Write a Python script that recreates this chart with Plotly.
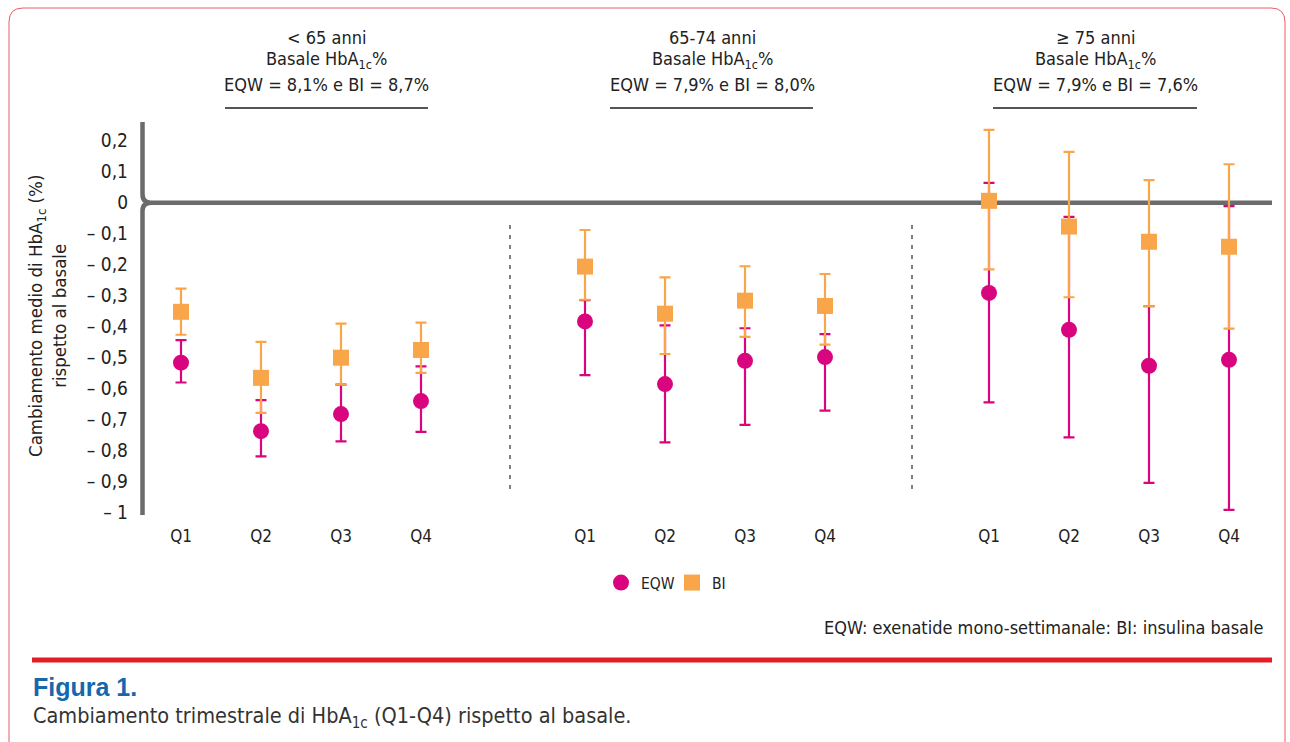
import plotly.graph_objects as go

# ---------------- data ----------------
groups = ["< 65 anni", "65-74 anni", "≥ 75 anni"]
baseline = ["EQW = 8,1% e BI = 8,7%", "EQW = 7,9% e BI = 8,0%", "EQW = 7,9% e BI = 7,6%"]
quarters = ["Q1", "Q2", "Q3", "Q4"]

eqw_mean = [-0.516, -0.737, -0.682, -0.640,
            -0.383, -0.585, -0.510, -0.498,
            -0.291, -0.410, -0.526, -0.507]
eqw_high = [-0.443, -0.637, -0.587, -0.528,
            -0.314, -0.396, -0.405, -0.424,
            0.064, -0.046, -0.334, -0.011]
eqw_low = [-0.580, -0.818, -0.770, -0.739,
           -0.556, -0.773, -0.717, -0.671,
           -0.644, -0.757, -0.904, -0.991]

bi_mean = [-0.352, -0.565, -0.500, -0.475,
           -0.206, -0.358, -0.316, -0.333,
           0.006, -0.077, -0.126, -0.142]
bi_high = [-0.277, -0.449, -0.390, -0.387,
           -0.088, -0.241, -0.205, -0.230,
           0.235, 0.164, 0.073, 0.124]
bi_low = [-0.426, -0.678, -0.587, -0.549,
          -0.313, -0.488, -0.433, -0.458,
          -0.215, -0.305, -0.334, -0.406]

y_ticks = [0.2, 0.1, 0, -0.1, -0.2, -0.3, -0.4, -0.5, -0.6, -0.7, -0.8, -0.9, -1]
y_ticktext = ["0,2", "0,1", "0", "– 0,1", "– 0,2", "– 0,3", "– 0,4", "– 0,5",
              "– 0,6", "– 0,7", "– 0,8", "– 0,9", "– 1"]

# ---------------- geometry ----------------
W, H = 1290, 742
PL, PR, PT, PB = 143, 1272, 110, 520
Y0PX, YSCALE = 202.7, 310.0
X0PX, XSCALE = 181.0, 80.0
GROUP_GAP = 5.05

yrange = [(Y0PX - PB) / YSCALE, (Y0PX - PT) / YSCALE]
xrange = [(PL - X0PX) / XSCALE, (PR - X0PX) / XSCALE]

def px(xp):
    return (xp - PL) / (PR - PL)

def py(yp):
    return (PB - yp) / (PB - PT)

xpos = [g * GROUP_GAP + q for g in range(len(groups)) for q in range(len(quarters))]
xlabels = [q for g in groups for q in quarters]

FONT = "DejaVu Sans Condensed, Liberation Sans Narrow, Arial Narrow, sans-serif"
TXT = "#222222"
MAG = "#D9057F"
ORA = "#F9A54A"
AXC = "#6b6b6b"

fig = go.Figure()

fig.add_trace(go.Scatter(
    x=xpos, y=eqw_mean, mode="markers", name="EQW",
    marker=dict(symbol="circle", size=16, color=MAG),
    error_y=dict(type="data", symmetric=False,
                 array=[h - m for h, m in zip(eqw_high, eqw_mean)],
                 arrayminus=[m - l for l, m in zip(eqw_low, eqw_mean)],
                 color=MAG, thickness=2.2, width=5.5),
))
fig.add_trace(go.Scatter(
    x=xpos, y=bi_mean, mode="markers", name="BI",
    marker=dict(symbol="square", size=16, color=ORA),
    error_y=dict(type="data", symmetric=False,
                 array=[h - m for h, m in zip(bi_high, bi_mean)],
                 arrayminus=[m - l for l, m in zip(bi_low, bi_mean)],
                 color=ORA, thickness=2.2, width=5.5),
))

shapes = []
# axis with brace at zero
ax_x = px(142.5)
path = (f"M {ax_x},{py(122)} L {ax_x},{py(194)} Q {ax_x},{py(202.7)} {px(151)},{py(202.7)} "
        f"L {px(1272)},{py(202.7)} M {px(151)},{py(202.7)} Q {ax_x},{py(202.7)} {ax_x},{py(211)} "
        f"L {ax_x},{py(515)}")
shapes.append(dict(type="path", xref="paper", yref="paper", path=path,
                   line=dict(color=AXC, width=4.5), layer="below"))
# dashed separators
for sx in [510, 912]:
    shapes.append(dict(type="line", xref="paper", yref="paper",
                       x0=px(sx), x1=px(sx), y0=py(225), y1=py(490),
                       line=dict(color="#555555", width=1.5, dash="4px,6px")))
# header underlines
for (x0, x1) in [(225, 428), (610, 813), (993, 1197)]:
    shapes.append(dict(type="line", xref="paper", yref="paper",
                       x0=px(x0), x1=px(x1), y0=py(108), y1=py(108),
                       line=dict(color="#555555", width=2)))
# red separator line
shapes.append(dict(type="line", xref="paper", yref="paper",
                   x0=px(32), x1=px(1272), y0=py(660), y1=py(660),
                   line=dict(color="#E31E24", width=5)))
# outer rounded border
bpath = (f"M {px(9)},{py(760)} L {px(9)},{py(22)} Q {px(9)},{py(8)} {px(23)},{py(8)} "
         f"L {px(1271)},{py(8)} Q {px(1285)},{py(8)} {px(1285)},{py(22)} L {px(1285)},{py(760)}")
shapes.append(dict(type="path", xref="paper", yref="paper", path=bpath,
                   line=dict(color="#EE5A62", width=1)))

annotations = []
centers = [326, 712, 1095]
for c, g, b in zip(centers, groups, baseline):
    for yy, t in [(37, g), (60, "Basale HbA<sub>1c</sub>%"), (85, b)]:
        annotations.append(dict(xref="paper", yref="paper", x=px(c), y=py(yy),
                                text=t, showarrow=False, xanchor="center", yanchor="middle",
                                font=dict(family=FONT, size=18, color=TXT)))
# y title
annotations.append(dict(xref="paper", yref="paper", x=px(47), y=py(316),
                        text="Cambiamento medio di HbA<sub>1c</sub> (%)<br>rispetto al basale",
                        textangle=-90, showarrow=False, xanchor="center", yanchor="middle",
                        font=dict(family=FONT, size=18.5, color=TXT)))
# footnote
annotations.append(dict(xref="paper", yref="paper", x=px(1266), y=py(627),
                        text="EQW: exenatide mono-settimanale: BI: insulina basale",
                        showarrow=False, xanchor="right", yanchor="middle",
                        font=dict(family=FONT, size=18, color=TXT)))
annotations.append(dict(xref="paper", yref="paper", x=px(31), y=py(687),
                        text="<b>Figura 1.</b>", showarrow=False, xanchor="left", yanchor="middle",
                        font=dict(family="Liberation Sans, Arial, sans-serif", size=25, color="#1767AE")))
annotations.append(dict(xref="paper", yref="paper", x=px(31), y=py(717),
                        text="Cambiamento trimestrale di HbA<sub>1c</sub> (Q1-Q4) rispetto al basale.",
                        showarrow=False, xanchor="left", yanchor="middle",
                        font=dict(family=FONT, size=21.5, color="#333333")))

fig.update_layout(
    width=W, height=H, autosize=False,
    margin=dict(l=PL, r=W - PR, t=PT, b=H - PB, pad=0),
    paper_bgcolor="white", plot_bgcolor="white",
    showlegend=True,
    legend=dict(orientation="h", x=px(601), y=py(583), xanchor="left", yanchor="middle",
                font=dict(family=FONT, size=15.5, color=TXT), itemwidth=30,
                entrywidth=26, entrywidthmode="pixels",
                bgcolor="rgba(0,0,0,0)", traceorder="normal"),
    xaxis=dict(range=xrange, tickvals=xpos, ticktext=xlabels, showgrid=False,
               zeroline=False, showline=False, ticks="", fixedrange=True,
               tickfont=dict(family=FONT, size=17, color=TXT), ticklabelstandoff=4),
    yaxis=dict(range=yrange, tickvals=y_ticks, ticktext=y_ticktext, showgrid=False,
               zeroline=False, showline=False, ticks="", fixedrange=True,
               tickfont=dict(family=FONT, size=19, color=TXT), ticklabelstandoff=14),
    shapes=shapes, annotations=annotations,
)

fig.write_html("out.html", config={"displayModeBar": False},
               post_script="document.body.style.margin='0';")
